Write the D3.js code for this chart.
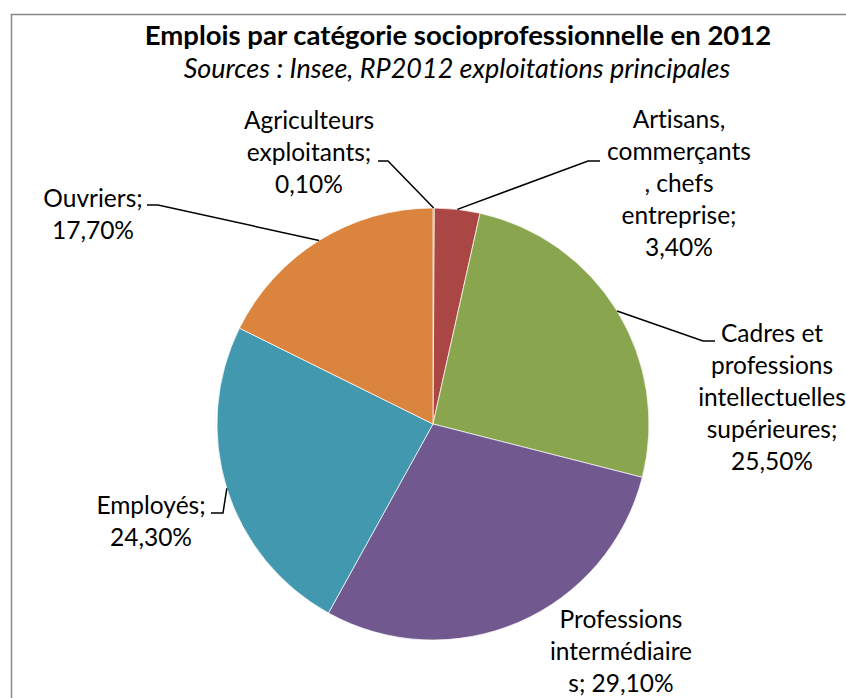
<!DOCTYPE html>
<html>
<head>
<meta charset="utf-8">
<script src="https://cdn.jsdelivr.net/npm/d3@7"></script>
<style>
  html, body { margin: 0; padding: 0; background: #fff; }
  svg { display: block; }
  text { font-family: Lato, "Open Sans", sans-serif; fill: #000; font-variant-ligatures: none; }
</style>
</head>
<body>
<svg id="chart" width="846" height="698"></svg>
<script>
// Répartition des emplois (%) par catégorie socioprofessionnelle, 2012
const categories = [
  "Agriculteurs exploitants",
  "Artisans, commerçants, chefs entreprise",
  "Cadres et professions intellectuelles supérieures",
  "Professions intermédiaires",
  "Employés",
  "Ouvriers"
];
const values = [0.1, 3.4, 25.5, 29.1, 24.3, 17.7];
const valueLabels = ["0,10%", "3,40%", "25,50%", "29,10%", "24,30%", "17,70%"];
const colors = ["#4F6F9A", "#AA4643", "#89A54E", "#71588F", "#4198AF", "#DB843D"];

// Texte des étiquettes, ligne par ligne
const labelLines = [
  ["Agriculteurs", "exploitants;", "0,10%"],
  ["Artisans,", "commerçants", ", chefs", "entreprise;", "3,40%"],
  ["Cadres et", "professions", "intellectuelles", "supérieures;", "25,50%"],
  ["Professions", "intermédiaire", "s; 29,10%"],
  ["Employés;", "24,30%"],
  ["Ouvriers;", "17,70%"]
];

// Placement des étiquettes : centre x, ligne de base de la 1re ligne,
// et coude / extrémité du trait de rappel (null = pas de trait)
const labelLayout = [
  { x: 309, y: 129, leader: [[388, 161], [378, 161]] },
  { x: 679, y: 128, leader: [[588, 161], [600, 161]] },
  { x: 772, y: 342, leader: [[703, 341], [715, 341]] },
  { x: 621, y: 628, leader: null },
  { x: 151, y: 514, leader: [[223, 513], [211, 513]] },
  { x: 93,  y: 207, leader: [[158, 205], [147, 205]] }
];

const lineHeight = 32;
const svg = d3.select("#chart");

// Cadre du graphique
svg.append("rect")
  .attr("x", 11.5).attr("y", 14.5)
  .attr("width", 900).attr("height", 800)
  .attr("fill", "#fff")
  .attr("stroke", "#888").attr("stroke-width", 1.5);

// Titres
svg.append("text")
  .attr("x", 458).attr("y", 45)
  .attr("text-anchor", "middle")
  .style("font-size", "27.5px").style("font-weight", "bold")
  .text("Emplois par catégorie socioprofessionnelle en 2012");
svg.append("text")
  .attr("x", 457).attr("y", 78)
  .attr("text-anchor", "middle")
  .style("font-size", "27px").style("font-style", "italic")
  .text("Sources : Insee, RP2012 exploitations principales");

// Camembert
const cx = 433, cy = 424, radius = 216;
const g = svg.append("g").attr("transform", `translate(${cx},${cy})`);

const pie = d3.pie().sort(null).value(d => d)(values);
const arc = d3.arc().innerRadius(0).outerRadius(radius);
const edgeArc = d3.arc().innerRadius(radius).outerRadius(radius);

g.selectAll("path.slice")
  .data(pie)
  .join("path")
  .attr("class", "slice")
  .attr("d", arc)
  .attr("fill", (d, i) => colors[i])
  .attr("stroke", "#fff")
  .attr("stroke-width", 0.7);

// Traits de rappel : du bord de la part jusqu'à l'étiquette
const line = d3.line();
pie.forEach((d, i) => {
  const lay = labelLayout[i];
  if (!lay.leader) return;
  const [ax, ay] = edgeArc.centroid(d);
  const pts = [[cx + ax, cy + ay], ...lay.leader];
  svg.append("path")
    .attr("d", line(pts))
    .attr("fill", "none")
    .attr("stroke", "#000")
    .attr("stroke-width", 1.5);
});

// Étiquettes de données
labelLines.forEach((lines, i) => {
  const lay = labelLayout[i];
  const t = svg.append("text")
    .attr("text-anchor", "middle")
    .style("font-size", "24.5px");
  lines.forEach((s, k) => {
    t.append("tspan")
      .attr("x", lay.x)
      .attr("y", lay.y + k * lineHeight)
      .text(s);
  });
});
</script>
</body>
</html>
